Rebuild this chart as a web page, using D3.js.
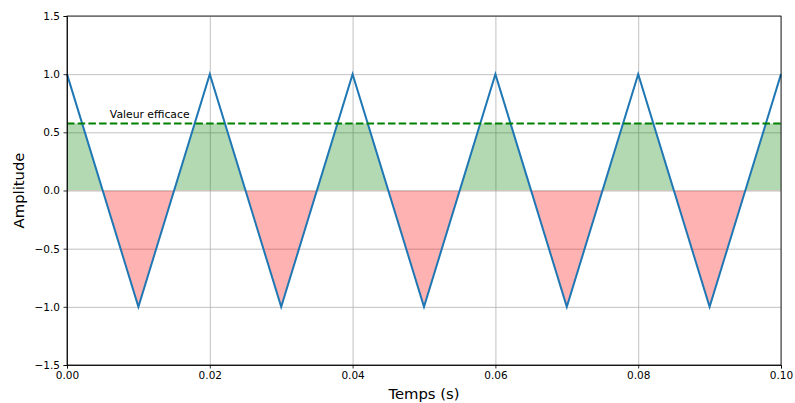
<!DOCTYPE html>
<meta charset="utf-8">
<style>
body { margin: 0; background: #fff; }
text { font-family: "DejaVu Sans", sans-serif; }
.grid line { stroke: #b0b0b0; stroke-width: 0.8px; }
.grid path { display: none; }
.axis path, .axis line { stroke: #000; stroke-width: 0.8px; }
.axis text { font-size: 10.5px; fill: #000; }
</style>
<body>
<script src="https://d3js.org/d3.v7.min.js"></script>
<script>

// triangle wave vertices
var times = [0, 0.01, 0.02, 0.03, 0.04, 0.05, 0.06, 0.07, 0.08, 0.09, 0.10];
var amps  = [1, -1, 1, -1, 1, -1, 1, -1, 1, -1, 1];
var rms = 0.577;   // valeur efficace
var xTicks = [0, 0.02, 0.04, 0.06, 0.08, 0.10];
var yTicks = [-1.5, -1.0, -0.5, 0.0, 0.5, 1.0, 1.5];

var data = times.map(function(t, i) { return {t: t, v: amps[i]}; });

var margin = {top: 16, right: 14, bottom: 38, left: 67},
    width = 795 - margin.left - margin.right,
    height = 403 - margin.top - margin.bottom;

var x = d3.scaleLinear().domain([0, 0.1]).range([0, width]);
var y = d3.scaleLinear().domain([-1.5, 1.5]).range([height, 0]);

var svg = d3.select("body").append("svg")
    .attr("width", 795)
    .attr("height", 403);
var g = svg.append("g")
    .attr("transform", "translate(" + margin.left + "," + margin.top + ")");

// grid
g.append("g").attr("class", "grid")
    .attr("transform", "translate(0," + height + ")")
    .call(d3.axisBottom(x).tickValues(xTicks).tickSize(-height).tickFormat(""));
g.append("g").attr("class", "grid")
    .call(d3.axisLeft(y).tickValues(yTicks).tickSize(-width).tickFormat(""));

// clip regions for the fills
var defs = svg.append("defs");
defs.append("clipPath").attr("id", "clipPos")
  .append("rect")
    .attr("x", 0).attr("width", width)
    .attr("y", y(rms)).attr("height", y(0) - y(rms));
defs.append("clipPath").attr("id", "clipNeg")
  .append("rect")
    .attr("x", 0).attr("width", width)
    .attr("y", y(0)).attr("height", height - y(0));

var area = d3.area()
    .x(function(d) { return x(d.t); })
    .y0(y(0))
    .y1(function(d) { return y(d.v); });

g.append("path")
    .datum(data)
    .attr("d", area)
    .attr("fill", "green")
    .attr("fill-opacity", 0.3)
    .attr("clip-path", "url(#clipPos)");

g.append("path")
    .datum(data)
    .attr("d", area)
    .attr("fill", "red")
    .attr("fill-opacity", 0.3)
    .attr("clip-path", "url(#clipNeg)");

// signal
var line = d3.line()
    .x(function(d) { return x(d.t); })
    .y(function(d) { return y(d.v); });

g.append("path")
    .datum(data)
    .attr("d", line)
    .attr("fill", "none")
    .attr("stroke", "#1f77b4")
    .attr("stroke-width", 2);

// rms line
g.append("line")
    .attr("x1", 0).attr("x2", width)
    .attr("y1", y(rms)).attr("y2", y(rms))
    .attr("stroke", "green")
    .attr("stroke-width", 2)
    .attr("stroke-dasharray", "7.5,3.2");

g.append("text")
    .attr("x", x(0.006))
    .attr("y", y(rms + 0.05))
    .attr("font-size", 10.8)
    .text("Valeur efficace");

// frame
g.append("rect")
    .attr("width", width).attr("height", height)
    .attr("fill", "none")
    .attr("stroke", "#000")
    .attr("stroke-width", 0.8);

// axes
g.append("g").attr("class", "axis")
    .attr("transform", "translate(0," + height + ")")
    .call(d3.axisBottom(x).tickValues(xTicks).tickSize(3.5).tickPadding(3.5)
      .tickFormat(d3.format(".2f")));
g.append("g").attr("class", "axis")
    .call(d3.axisLeft(y).tickValues(yTicks).tickSize(3.5).tickPadding(3.5)
      .tickFormat(d3.format(".1f")));

// axis labels
svg.append("text")
    .attr("x", margin.left + width / 2)
    .attr("y", 399)
    .attr("text-anchor", "middle")
    .attr("font-size", 14.8)
    .text("Temps (s)");
svg.append("text")
    .attr("transform", "translate(24," + (margin.top + height / 2) + ") rotate(-90)")
    .attr("text-anchor", "middle")
    .attr("font-size", 14.8)
    .text("Amplitude");

</script>
</body>
